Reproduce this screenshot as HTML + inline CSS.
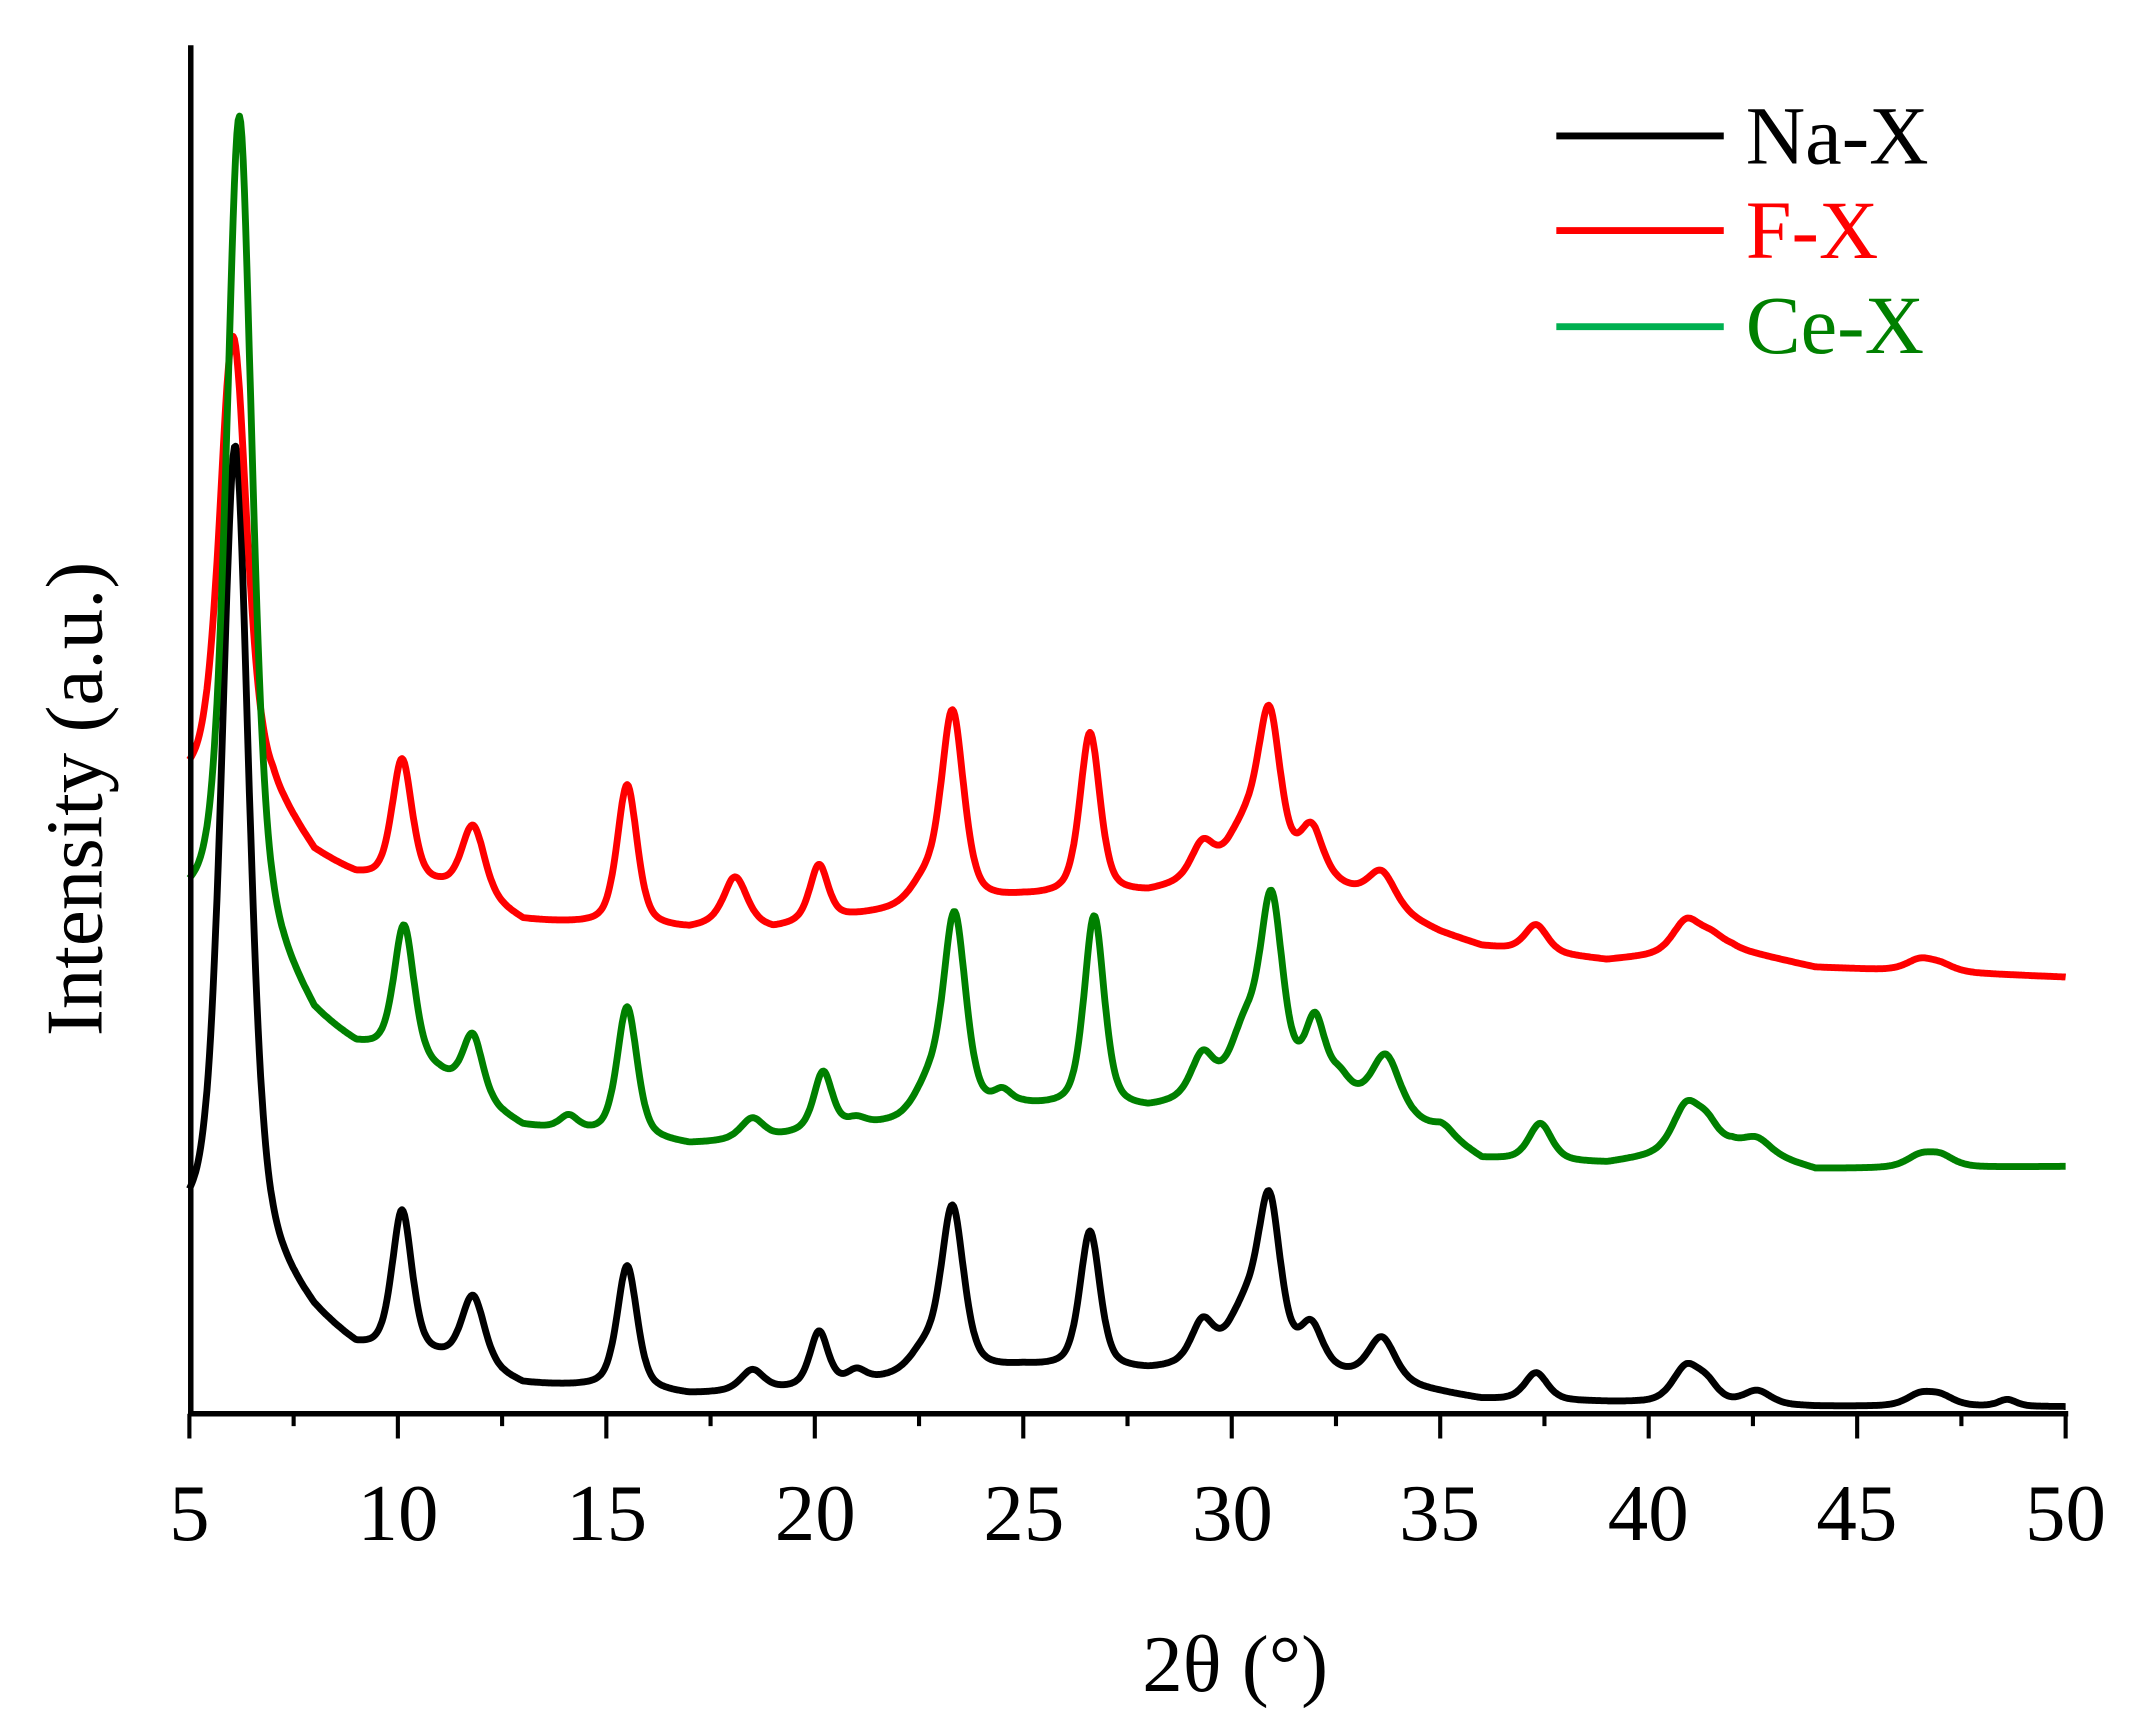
<!DOCTYPE html>
<html><head><meta charset="utf-8"><style>
html,body{margin:0;padding:0;background:#fff;}
svg{display:block;}
text{font-family:"Liberation Serif","Times New Roman",serif;}
</style></head><body>
<svg id="s" width="2130" height="1724" viewBox="0 0 1552 1256" preserveAspectRatio="none" xmlns="http://www.w3.org/2000/svg">
<g id="curves" fill="none" stroke-width="5" stroke-linejoin="round"></g>
<line x1="139" y1="33" x2="139" y2="1031" stroke="#000" stroke-width="4"/>
<line x1="137" y1="1030" x2="1507" y2="1030" stroke="#000" stroke-width="4"/>
<g id="ticks" stroke="#000" stroke-width="3"></g>
<g font-size="59" text-anchor="middle">
<text x="138" y="1122">5</text><text x="290" y="1122">10</text><text x="442" y="1122">15</text>
<text x="594" y="1122">20</text><text x="746" y="1122">25</text><text x="898" y="1122">30</text>
<text x="1049" y="1122">35</text><text x="1201" y="1122">40</text><text x="1353" y="1122">45</text>
<text x="1505" y="1122">50</text>
<text x="900" y="1232">2θ (°)</text>
<text transform="translate(74,582) rotate(-90)">Intensity (a.u.)</text>
</g>
<line x1="1134" y1="99" x2="1256" y2="99" stroke="#000" stroke-width="5"/>
<line x1="1134" y1="168" x2="1256" y2="168" stroke="#ff0000" stroke-width="5"/>
<line x1="1134" y1="238" x2="1256" y2="238" stroke="#00b050" stroke-width="5"/>
<g font-size="60">
<text x="1272" y="119" fill="#000">Na-X</text>
<text x="1272" y="188" fill="#ff0000">F-X</text>
<text x="1272" y="257" fill="#008000">Ce-X</text>
</g>
</svg>
<script>
var X=function(d){return 138+(d-5)*30.38;};
function interp(pts,x){for(var i=0;i<pts.length-1;i++){if(x<=pts[i+1][0]){var t=(x-pts[i][0])/(pts[i+1][0]-pts[i][0]);return pts[i][1]+t*(pts[i+1][1]-pts[i][1]);}}return pts[pts.length-1][1];}
function pv(x,c,h,w){w*=1.3;var u=(x-c)/w;return h*(0.5*Math.exp(-u*u*0.693)+0.5/(1+u*u));}
var series=[
{c:"#000",b:[[5,900],[6.1,905],[7,930],[8,962],[9,985],[10,990],[11,992],[12,998],[13,1010],[15,1012],[17,1017],[20,1012],[22,1005],[25,997],[28,1000],[30,995],[32,1000],[35,1015],[36,1020],[39,1022],[44,1025],[50,1025]],
 p:[[6.1,580,0.3],[10.1,105,0.22],[11.8,50,0.25],[15.5,90,0.22],[18.5,15,0.25],[20.1,40,0.2],[21,8,0.2],[22.6,15,0.3],[23.3,120,0.25],[26.6,100,0.22],[29.3,30,0.25],[30.3,35,0.35],[30.9,115,0.25],[31.9,30,0.25],[33.6,32,0.3],[37.3,20,0.25],[40.9,26,0.3],[41.4,12,0.25],[42.6,10,0.3],[46.5,8,0.3],[47,7,0.3],[48.6,5,0.2]]},
{c:"#ff0000",b:[[5,575],[6,575],[7,585],[8,625],[9,640],[10,645],[11,648],[12,655],[13,672],[15,675],[17,678],[18,672],[19,678],[20,672],[22,665],[25,655],[28,652],[30,638],[32,640],[35,680],[36,690],[39,700],[42,692],[44,705],[50,712]],
 p:[[6.05,330,0.3],[10.1,90,0.22],[11.8,50,0.25],[15.5,103,0.22],[18.1,32,0.25],[20.1,40,0.2],[22.6,15,0.3],[23.3,140,0.25],[26.6,118,0.22],[29.3,25,0.25],[30.3,30,0.35],[30.9,112,0.25],[31.9,33,0.25],[33.6,25,0.3],[37.3,20,0.25],[40.9,23,0.3],[41.5,10,0.3],[46.5,8,0.3],[47,5,0.3]]},
{c:"#008000",b:[[5,665],[6.2,670],[7,700],[8,745],[9,765],[10,770],[11,785],[12,805],[13,822],[15,828],[17,835],[19,830],[20,825],[22,820],[25,808],[28,810],[30,798],[32,792],[35,825],[36,845],[39,848],[42,835],[44,852],[50,850]],
 p:[[6.2,585,0.28],[10.15,95,0.22],[11.8,45,0.22],[14.1,10,0.2],[15.5,95,0.22],[18.5,15,0.25],[20.2,42,0.2],[21,5,0.2],[22.7,20,0.3],[23.35,145,0.25],[24.5,10,0.2],[26.7,140,0.22],[29.3,30,0.25],[30.3,40,0.3],[30.95,135,0.25],[32,45,0.22],[32.6,10,0.2],[33.7,40,0.3],[35.1,5,0.2],[37.4,27,0.25],[40.9,33,0.3],[41.4,15,0.25],[42.6,10,0.3],[46.5,8,0.3],[47,8,0.3]]}
];
var g=document.getElementById("curves"),ns="http://www.w3.org/2000/svg";
series.forEach(function(s){var d="";for(var x=5;x<=50.001;x+=0.03){var y=interp(s.b,x);s.p.forEach(function(p){y-=pv(x,p[0],p[1],p[2]);});d+=(d?"L":"M")+X(x).toFixed(1)+","+y.toFixed(1);}
var e=document.createElementNS(ns,"path");e.setAttribute("d",d);e.setAttribute("stroke",s.c);g.appendChild(e);});
var t=document.getElementById("ticks");
for(var d=5;d<=50.001;d+=2.5){var l=document.createElementNS(ns,"line");var xx=X(d);l.setAttribute("x1",xx);l.setAttribute("x2",xx);l.setAttribute("y1",1030);l.setAttribute("y2",(Math.abs(d%5)<0.01)?1048:1039);t.appendChild(l);}
</script>
</body></html>
